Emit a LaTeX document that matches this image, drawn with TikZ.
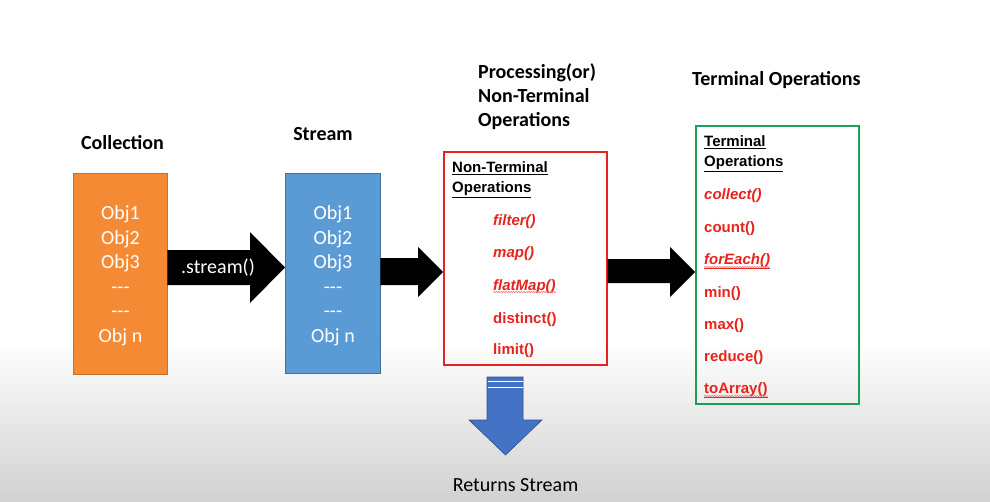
\documentclass[tikz,border=0pt]{standalone}
\usepackage{fontspec}
\setmainfont{Carlito}
\newfontfamily\arialf{Liberation Sans}
\usetikzlibrary{calc,decorations.pathmorphing}
\definecolor{orangebox}{HTML}{F58A34}
\definecolor{orangeedge}{HTML}{C8702A}
\definecolor{bluebox}{HTML}{5B9BD5}
\definecolor{blueedge}{HTML}{41719C}
\definecolor{redtxt}{HTML}{E8231B}
\definecolor{redbox}{HTML}{E52420}
\definecolor{greenbox}{HTML}{1E9E5A}
\definecolor{arrowblue}{HTML}{4472C4}
\definecolor{arrowedge}{HTML}{2F528F}
\definecolor{squig}{HTML}{F08080}
\tikzset{
  title/.style={anchor=base west, inner sep=0, font=\bfseries\fontsize{20}{24}\selectfont},
  objs/.style={align=center, text=white, inner sep=0, font=\fontsize{20}{24.5}\selectfont},
  hdr/.style={anchor=base west, inner sep=0, font=\arialf\bfseries\fontsize{15}{18}\selectfont},
  opit/.style={anchor=base west, inner sep=0, text=redtxt, font=\arialf\bfseries\itshape\fontsize{15}{18}\selectfont},
  opup/.style={anchor=base west, inner sep=0, text=redtxt, font=\arialf\bfseries\fontsize{15}{18}\selectfont},
  spell/.style={draw=squig, line width=0.6pt, decorate, decoration={snake, amplitude=0.7pt, segment length=2.5pt}},
  blockarrow/.style={fill=black},
}
\begin{document}
\begin{tikzpicture}[x=1pt,y=-1pt]
\useasboundingbox (0,0) rectangle (990,501);
\fill[white] (0,0) rectangle (990,340);
\shade[top color=white, bottom color=black!18] (0,340) rectangle (990,501);

% titles
\node[title, anchor=base] (tcoll) at (122.5,149) {Collection};
\node[title, anchor=base] (tstrm) at (323,140.5) {Stream};
\node[title] (tproc1) at (478,78) {Processing(or)};
\node[title] (tproc2) at (478,102) {Non-Terminal};
\node[title] (tproc3) at (478,126) {Operations};
\node[title] (tterm) at (692,85) {Terminal Operations};

% collection box
\node[draw=orangeedge, fill=orangebox, anchor=north west, inner sep=0,
      minimum width=94, minimum height=201] (coll) at (73,173) {};
\node[objs] (collt) at (120.5,276) {Obj1\\Obj2\\Obj3\\-{}-{}-\\-{}-{}-\\Obj n};

% stream box
\node[draw=blueedge, fill=bluebox, anchor=north west, inner sep=0,
      minimum width=95, minimum height=200] (strm) at (285,173) {};
\node[objs] (strmt) at (333,276) {Obj1\\Obj2\\Obj3\\-{}-{}-\\-{}-{}-\\Obj n};

% arrow collection -> stream
\fill[blockarrow] (coll.east |- 0,250) -- (250,250) -- (250,232) -- (strm.west |- 0,267.5)
  -- (250,303) -- (250,285) -- (coll.east |- 0,285) -- cycle;
\node[text=white, font=\fontsize{20}{22}\selectfont, inner sep=0] (stxt) at (218,268) {.stream()};

% red box
\node[draw=redbox, line width=1.6pt, anchor=north west, inner sep=0,
      minimum width=163, minimum height=213] (nonterm) at (443,151) {};
\node[hdr] (nh1) at (452,172.5) {\underline{Non-Terminal}};
\node[hdr] (nh2) at (452,192.5) {\underline{Operations}};
\node[opit] (filt) at (493,225) {filter()};
\node[opit] (mapo) at (493,257) {map()};
\node[opit] (flat) at (493,290) {flatMap()};
\node[opup] (dist) at (493,323) {distinct()};
\node[opup] (lim) at (493,354) {limit()};
\draw[spell] ([yshift=-2pt]flat.base west) -- ([yshift=-2pt]flat.base east);

% arrow stream -> red box
\fill[blockarrow] (strm.east |- 0,258) -- (418,258) -- (418,247) -- (nonterm.west |- 0,272)
  -- (418,297) -- (418,285) -- (strm.east |- 0,285) -- cycle;

% green box
\node[draw=greenbox, line width=1.6pt, anchor=north west, inner sep=0,
      minimum width=163, minimum height=278] (term) at (695,125) {};
\node[hdr] (th1) at (704,146.5) {\underline{Terminal}};
\node[hdr] (th2) at (704,166.5) {\underline{Operations}};
\node[opit] (coll2) at (704,199) {collect()};
\node[opup] (cnt) at (704,232) {count()};
\node[opit] (fore) at (704,264) {\underline{forEach()}};
\node[opup] (mino) at (704,297) {min()};
\node[opup] (maxo) at (704,329) {max()};
\node[opup] (redu) at (704,361) {reduce()};
\node[opup] (toar) at (704,393) {\underline{toArray()}};
\draw[spell] ([yshift=-3pt]fore.base west) -- ([yshift=-3pt]fore.base east);
\draw[spell] ([yshift=-3pt]toar.base west) -- ([yshift=-3pt]toar.base east);

% arrow red box -> green box
\fill[blockarrow] (nonterm.east |- 0,259) -- (670,259) -- (670,247) -- (term.west |- 0,272)
  -- (670,297) -- (670,283) -- (nonterm.east |- 0,283) -- cycle;

% blue down arrow
\coordinate (dtip) at (505.5,455);
\filldraw[fill=arrowblue, draw=arrowedge, line width=0.6pt]
  (487,377) -- (523,377) -- (523,420) -- (542,420) -- (dtip) -- (469,420) -- (487,420) -- cycle;
\draw[white, line width=0.9pt] (487.5,381) -- (522.5,381);
\draw[white, line width=0.9pt] (487.5,387.5) -- (522.5,387.5);
\node[anchor=base, inner sep=0, font=\fontsize{20}{22}\selectfont] (ret) at (515.5,491.5) {Returns Stream};
\end{tikzpicture}
\end{document}
